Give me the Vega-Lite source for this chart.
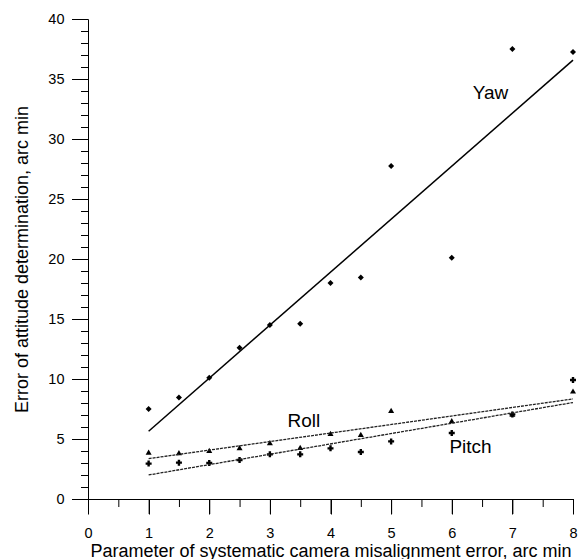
{
  "$schema": "https://vega.github.io/schema/vega-lite/v6.json",
  "autosize": "none",
  "width": 485,
  "height": 480,
  "padding": {"left": 88, "top": 19, "right": 7, "bottom": 60},
  "background": "white",
  "config": {
    "view": {"stroke": null},
    "axis": {
      "grid": false,
      "domainColor": "black",
      "tickColor": "black",
      "labelColor": "black",
      "titleColor": "black",
      "labelFont": "Liberation Sans",
      "titleFont": "Liberation Sans",
      "labelFontSize": 14.5,
      "titleFontSize": 18,
      "titleFontWeight": "normal"
    }
  },
  "datasets": {
    "obs": [
      {"series": "Yaw", "x": 1, "y": 7.5},
      {"series": "Yaw", "x": 1.5, "y": 8.45},
      {"series": "Yaw", "x": 2, "y": 10.1},
      {"series": "Yaw", "x": 2.5, "y": 12.6},
      {"series": "Yaw", "x": 3, "y": 14.5},
      {"series": "Yaw", "x": 3.5, "y": 14.6},
      {"series": "Yaw", "x": 4, "y": 18.0},
      {"series": "Yaw", "x": 4.5, "y": 18.45},
      {"series": "Yaw", "x": 5, "y": 27.75},
      {"series": "Yaw", "x": 6, "y": 20.1},
      {"series": "Yaw", "x": 7, "y": 37.5},
      {"series": "Yaw", "x": 8, "y": 37.25},
      {"series": "Roll", "x": 1, "y": 3.9},
      {"series": "Roll", "x": 1.5, "y": 3.86},
      {"series": "Roll", "x": 2, "y": 4.05},
      {"series": "Roll", "x": 2.5, "y": 4.28},
      {"series": "Roll", "x": 3, "y": 4.7},
      {"series": "Roll", "x": 3.5, "y": 4.3},
      {"series": "Roll", "x": 4, "y": 5.47},
      {"series": "Roll", "x": 4.5, "y": 5.39},
      {"series": "Roll", "x": 5, "y": 7.39},
      {"series": "Roll", "x": 6, "y": 6.53},
      {"series": "Roll", "x": 7, "y": 7.08},
      {"series": "Roll", "x": 8, "y": 9.0},
      {"series": "Pitch", "x": 1, "y": 2.95},
      {"series": "Pitch", "x": 1.5, "y": 3.03},
      {"series": "Pitch", "x": 2, "y": 3.0},
      {"series": "Pitch", "x": 2.5, "y": 3.25},
      {"series": "Pitch", "x": 3, "y": 3.72},
      {"series": "Pitch", "x": 3.5, "y": 3.72},
      {"series": "Pitch", "x": 4, "y": 4.22},
      {"series": "Pitch", "x": 4.5, "y": 3.92},
      {"series": "Pitch", "x": 5, "y": 4.8},
      {"series": "Pitch", "x": 6, "y": 5.5},
      {"series": "Pitch", "x": 7, "y": 7.05},
      {"series": "Pitch", "x": 8, "y": 9.92}
    ],
    "labels": [
      {"text": "Yaw", "x": 6.64, "y": 33.3},
      {"text": "Roll", "x": 3.56, "y": 6.0},
      {"text": "Pitch", "x": 6.31, "y": 3.83}
    ],
    "xmajor": [{"v": 0}, {"v": 1}, {"v": 2}, {"v": 3}, {"v": 4}, {"v": 5}, {"v": 6}, {"v": 7}, {"v": 8}],
    "xminor": [{"v": 0.5}, {"v": 1.5}, {"v": 2.5}, {"v": 3.5}, {"v": 4.5}, {"v": 5.5}, {"v": 6.5}, {"v": 7.5}],
    "ymajor": [{"v": 0}, {"v": 5}, {"v": 10}, {"v": 15}, {"v": 20}, {"v": 25}, {"v": 30}, {"v": 35}, {"v": 40}],
    "yminor": [{"v": 1}, {"v": 2}, {"v": 3}, {"v": 4}, {"v": 6}, {"v": 7}, {"v": 8}, {"v": 9}, {"v": 11}, {"v": 12}, {"v": 13}, {"v": 14}, {"v": 16}, {"v": 17}, {"v": 18}, {"v": 19}, {"v": 21}, {"v": 22}, {"v": 23}, {"v": 24}, {"v": 26}, {"v": 27}, {"v": 28}, {"v": 29}, {"v": 31}, {"v": 32}, {"v": 33}, {"v": 34}, {"v": 36}, {"v": 37}, {"v": 38}, {"v": 39}]
  },
  "layer": [
    {
      "data": {"name": "obs"},
      "mark": {"type": "point", "filled": true, "color": "black", "opacity": 1, "size": 36},
      "encoding": {
        "x": {"field": "x", "type": "quantitative", "scale": {"domain": [0, 8], "nice": false, "zero": false},
              "axis": {"orient": "bottom", "values": [0,1,2,3,4,5,6,7,8], "format": "d", "tickSize": 15, "labelPadding": 12, "labelFlush": false,
                       "title": "Parameter of systematic camera misalignment error, arc min",
                       "titleBaseline": "alphabetic", "titleY": 57, "titlePadding": 0}},
        "y": {"field": "y", "type": "quantitative", "scale": {"domain": [0, 40], "nice": false},
              "axis": {"orient": "left", "values": [0,5,10,15,20,25,30,35,40], "format": "d", "tickSize": 16, "labelPadding": 8,
                       "title": "Error of attitude determination, arc min",
                       "titleBaseline": "alphabetic", "titleX": -61, "titleY": 240, "titleAngle": -90}},
        "shape": {"field": "series", "type": "nominal",
                  "scale": {"domain": ["Yaw", "Roll", "Pitch"], "range": ["diamond", "triangle-up", "cross"]},
                  "legend": null}
      }
    },
    {
      "data": {"name": "ymajor"},
      "mark": {"type": "rule", "color": "black", "strokeWidth": 1, "x2Offset": -16, "yOffset": 0.5},
      "encoding": {
        "y": {"field": "v", "type": "quantitative", "axis": null},
        "x": {"datum": 0, "type": "quantitative", "axis": null},
        "x2": {"datum": 0}
      }
    },
    {
      "data": {"name": "yminor"},
      "mark": {"type": "rule", "color": "black", "strokeWidth": 1, "x2Offset": -7, "yOffset": 0.5},
      "encoding": {
        "y": {"field": "v", "type": "quantitative", "axis": null},
        "x": {"datum": 0, "type": "quantitative", "axis": null},
        "x2": {"datum": 0}
      }
    },
    {
      "data": {"name": "xmajor"},
      "mark": {"type": "rule", "color": "black", "strokeWidth": 1, "y2Offset": 15, "xOffset": 0.5},
      "encoding": {
        "x": {"field": "v", "type": "quantitative", "axis": null},
        "y": {"datum": 0, "type": "quantitative", "axis": null},
        "y2": {"datum": 0}
      }
    },
    {
      "data": {"name": "xminor"},
      "mark": {"type": "rule", "color": "black", "strokeWidth": 1, "y2Offset": 8, "xOffset": 0.5},
      "encoding": {
        "x": {"field": "v", "type": "quantitative", "axis": null},
        "y": {"datum": 0, "type": "quantitative", "axis": null},
        "y2": {"datum": 0}
      }
    },
    {
      "data": {"name": "obs"},
      "transform": [
        {"filter": "datum.series === 'Yaw'"},
        {"regression": "y", "on": "x"}
      ],
      "mark": {"type": "line", "color": "black", "strokeWidth": 1.5},
      "encoding": {
        "x": {"field": "x", "type": "quantitative", "axis": null},
        "y": {"field": "y", "type": "quantitative", "axis": null}
      }
    },
    {
      "data": {"name": "obs"},
      "transform": [
        {"filter": "datum.series !== 'Yaw'"},
        {"regression": "y", "on": "x", "groupby": ["series"]}
      ],
      "mark": {"type": "line", "color": "#222222", "strokeWidth": 1.3, "strokeDash": [3, 1]},
      "encoding": {
        "x": {"field": "x", "type": "quantitative", "axis": null},
        "y": {"field": "y", "type": "quantitative", "axis": null},
        "detail": {"field": "series", "type": "nominal"}
      }
    },
    {
      "data": {"name": "labels"},
      "mark": {"type": "text", "font": "Liberation Sans", "fontSize": 19, "color": "black", "align": "center", "baseline": "alphabetic"},
      "encoding": {
        "x": {"field": "x", "type": "quantitative", "axis": null},
        "y": {"field": "y", "type": "quantitative", "axis": null},
        "text": {"field": "text", "type": "nominal"}
      }
    }
  ],
  "resolve": {"axis": {"x": "independent", "y": "independent"}}
}
